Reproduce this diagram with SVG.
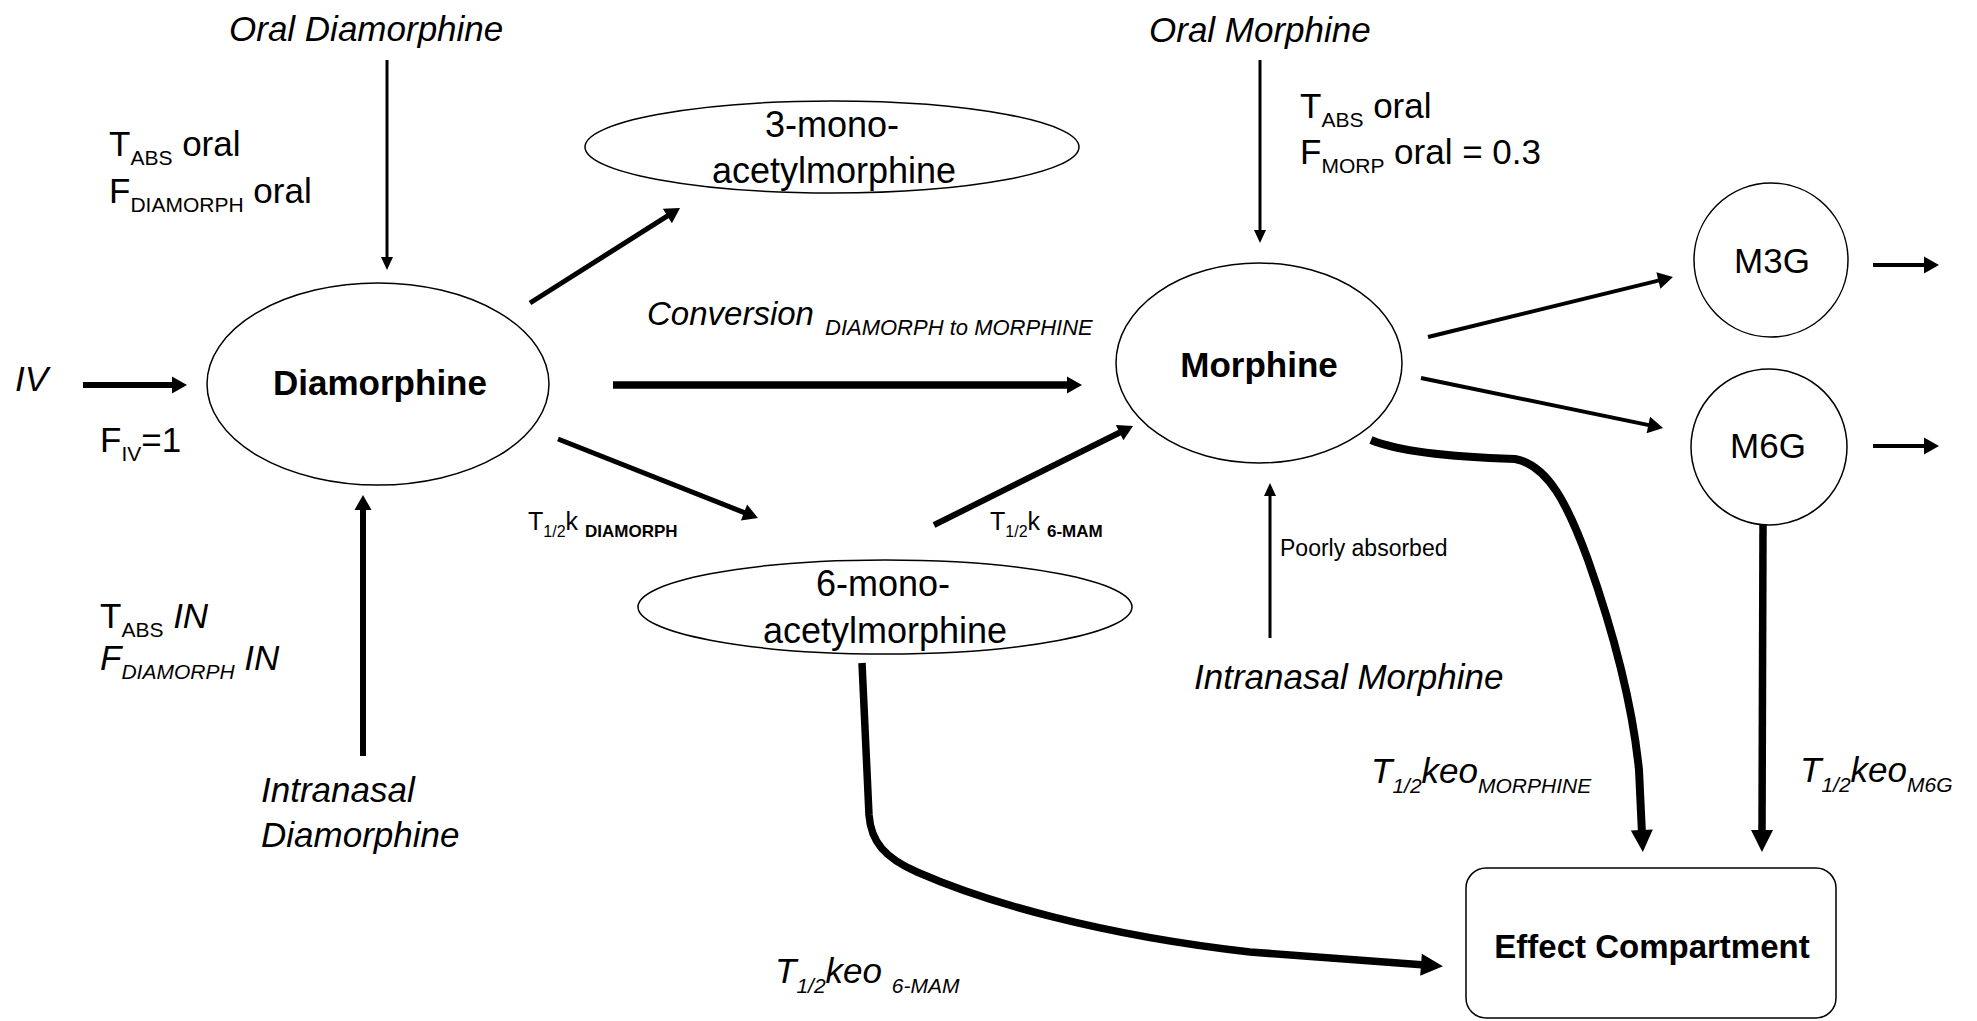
<svg xmlns="http://www.w3.org/2000/svg" width="1977" height="1021" viewBox="0 0 1977 1021">
<style>
text{font-family:"Liberation Sans",Arial,sans-serif;fill:#000}
.L{font-size:35px}
.i{font-style:italic}
.s{font-size:21px}
.n{font-size:35px;font-weight:bold;text-anchor:middle}
.m{font-size:36px;text-anchor:middle}
.g{font-size:35px;text-anchor:middle}
.sm{font-size:25px}
.ss{font-size:16px}
.sc{font-size:17px;font-weight:bold}
.shape{fill:#fff;stroke:#000;stroke-width:1.5}
.c{fill:none;stroke:#000;stroke-linecap:butt}
.w3{stroke-width:3}
.w4{stroke-width:4}
.w5{stroke-width:5}
.w6{stroke-width:6}
.w7{stroke-width:7.5}
.w8{stroke-width:8}
.h1{marker-end:url(#a1)}
.h2{marker-end:url(#a2)}
.h3{marker-end:url(#a3)}
</style>
<defs>
<marker id="a1" markerUnits="userSpaceOnUse" markerWidth="14" markerHeight="14" refX="3" refY="7" orient="auto" overflow="visible"><path d="M0,1 L13,7 L0,13 z" fill="#000"/></marker>
<marker id="a2" markerUnits="userSpaceOnUse" markerWidth="16" markerHeight="18" refX="3" refY="8.5" orient="auto" overflow="visible"><path d="M0,0 L15,8.5 L0,17 z" fill="#000"/></marker>
<marker id="a3" markerUnits="userSpaceOnUse" markerWidth="24" markerHeight="24" refX="4" refY="11" orient="auto" overflow="visible"><path d="M0,0 L22,11 L0,22 z" fill="#000"/></marker>
</defs>
<rect width="1977" height="1021" fill="#fff"/>

<g id="connectors">
<line class="c w3 h1" x1="387" y1="60" x2="387" y2="260"/>
<line class="c w6 h2" x1="83" y1="385" x2="175" y2="385"/>
<line class="c w6 h2" x1="363" y1="756" x2="363" y2="507"/>
<line class="c w5 h2" x1="530" y1="303" x2="669.9" y2="214.4"/>
<line class="c w7 h2" x1="613" y1="385" x2="1070" y2="385"/>
<line class="c w5 h2" x1="558" y1="439" x2="746.8" y2="513.6"/>
<line class="c w6 h2" x1="934" y1="525" x2="1122.3" y2="431.3"/>
<line class="c w3 h1" x1="1260" y1="60" x2="1260" y2="233"/>
<line class="c w3 h1" x1="1270" y1="638" x2="1270" y2="493"/>
<line class="c w4 h2" x1="1428" y1="337" x2="1661.3" y2="279.9"/>
<line class="c w4 h2" x1="1421" y1="378" x2="1651.3" y2="425.6"/>
<line class="c w4 h2" x1="1873" y1="265" x2="1927" y2="265"/>
<line class="c w4 h2" x1="1873" y1="446" x2="1927" y2="446"/>
<line class="c w7 h3" x1="1763" y1="525" x2="1762" y2="834"/>
<path class="c w8 h3" d="M1371,440 C1400,452 1450,457 1515,459 C1548,465 1568,505 1588,560 C1612,628 1632,700 1639,770 L1642,834"/>
<path class="c w7 h3" d="M862,663 L869,815 C871,842 885,858 917,872 C985,902 1100,935 1250,952 L1425,965"/>
</g>

<g id="node-diamorphine">
<ellipse class="shape" cx="378" cy="384" rx="171" ry="101"/>
<text class="n" x="380" y="395">Diamorphine</text>
</g>
<g id="node-3mam">
<ellipse class="shape" cx="832" cy="147" rx="247" ry="46"/>
<text class="m" x="832" y="137">3-mono-</text>
<text class="m" x="834" y="183">acetylmorphine</text>
</g>
<g id="node-6mam">
<ellipse class="shape" cx="885" cy="607" rx="247" ry="47"/>
<text class="m" x="883" y="596">6-mono-</text>
<text class="m" x="885" y="643">acetylmorphine</text>
</g>
<g id="node-morphine">
<ellipse class="shape" cx="1259" cy="363" rx="143" ry="100"/>
<text class="n" x="1259" y="377">Morphine</text>
</g>
<g id="node-m3g">
<circle class="shape" cx="1771" cy="260" r="77"/>
<text class="g" x="1772" y="273">M3G</text>
</g>
<g id="node-m6g">
<circle class="shape" cx="1769" cy="447" r="78"/>
<text class="g" x="1768" y="458">M6G</text>
</g>
<g id="node-effect">
<rect class="shape" x="1466" y="868" width="370" height="150" rx="20"/>
<text x="1652" y="958" style="font-size:33px;font-weight:bold;text-anchor:middle">Effect Compartment</text>
</g>

<g id="src-oral-diamorphine"><text class="L i" x="229" y="41">Oral Diamorphine</text></g>
<g id="src-iv"><text class="L i" x="15" y="391">IV</text></g>
<g id="src-intranasal-diamorphine">
<text class="L i" x="261" y="802">Intranasal</text>
<text class="L i" x="261" y="847">Diamorphine</text>
</g>
<g id="src-oral-morphine"><text class="L i" x="1149" y="42">Oral Morphine</text></g>
<g id="src-intranasal-morphine"><text class="L i" x="1194" y="689">Intranasal Morphine</text></g>

<g id="labels">
<text class="L" x="109" y="156">T<tspan class="s" dy="9">ABS</tspan><tspan dy="-9"> oral</tspan></text>
<text class="L" x="109" y="203">F<tspan class="s" dy="9">DIAMORPH</tspan><tspan dy="-9"> oral</tspan></text>
<text class="L" x="100" y="452">F<tspan class="s" dy="9">IV</tspan><tspan dy="-9">=1</tspan></text>
<text class="L" x="100" y="628">T<tspan class="s" dy="9">ABS</tspan><tspan class="i" dy="-9"> IN</tspan></text>
<text class="L i" x="100" y="670">F<tspan class="s" dy="9">DIAMORPH</tspan><tspan dy="-9"> IN</tspan></text>
<text class="L" x="1300" y="118">T<tspan class="s" dy="9">ABS</tspan><tspan dy="-9"> oral</tspan></text>
<text class="L" x="1300" y="164">F<tspan class="s" dy="9">MORP</tspan><tspan dy="-9"> oral = 0.3</tspan></text>
<text class="i" x="647" y="325" style="font-size:33px">Conversion<tspan x="825" dy="10" style="font-size:22px">DIAMORPH to MORPHINE</tspan></text>
<text class="sm" x="528" y="530">T<tspan class="ss" dy="7">1/2</tspan><tspan dy="-7">k </tspan><tspan class="sc" dy="7">DIAMORPH</tspan></text>
<text class="sm" x="990" y="530">T<tspan class="ss" dy="7">1/2</tspan><tspan dy="-7">k </tspan><tspan class="sc" dy="7">6-MAM</tspan></text>
<text x="1280" y="556" style="font-size:23px">Poorly absorbed</text>
<text class="L i" x="1371" y="783">T<tspan class="s" dy="10">1/2</tspan><tspan dy="-10">keo</tspan><tspan class="s" dy="10">MORPHINE</tspan></text>
<text class="L i" x="1800" y="782">T<tspan class="s" dy="10">1/2</tspan><tspan dy="-10">keo</tspan><tspan class="s" dy="10">M6G</tspan></text>
<text class="L i" x="775" y="983">T<tspan class="s" dy="10">1/2</tspan><tspan dy="-10">keo </tspan><tspan class="s" dy="10">6-MAM</tspan></text>
</g>
</svg>
